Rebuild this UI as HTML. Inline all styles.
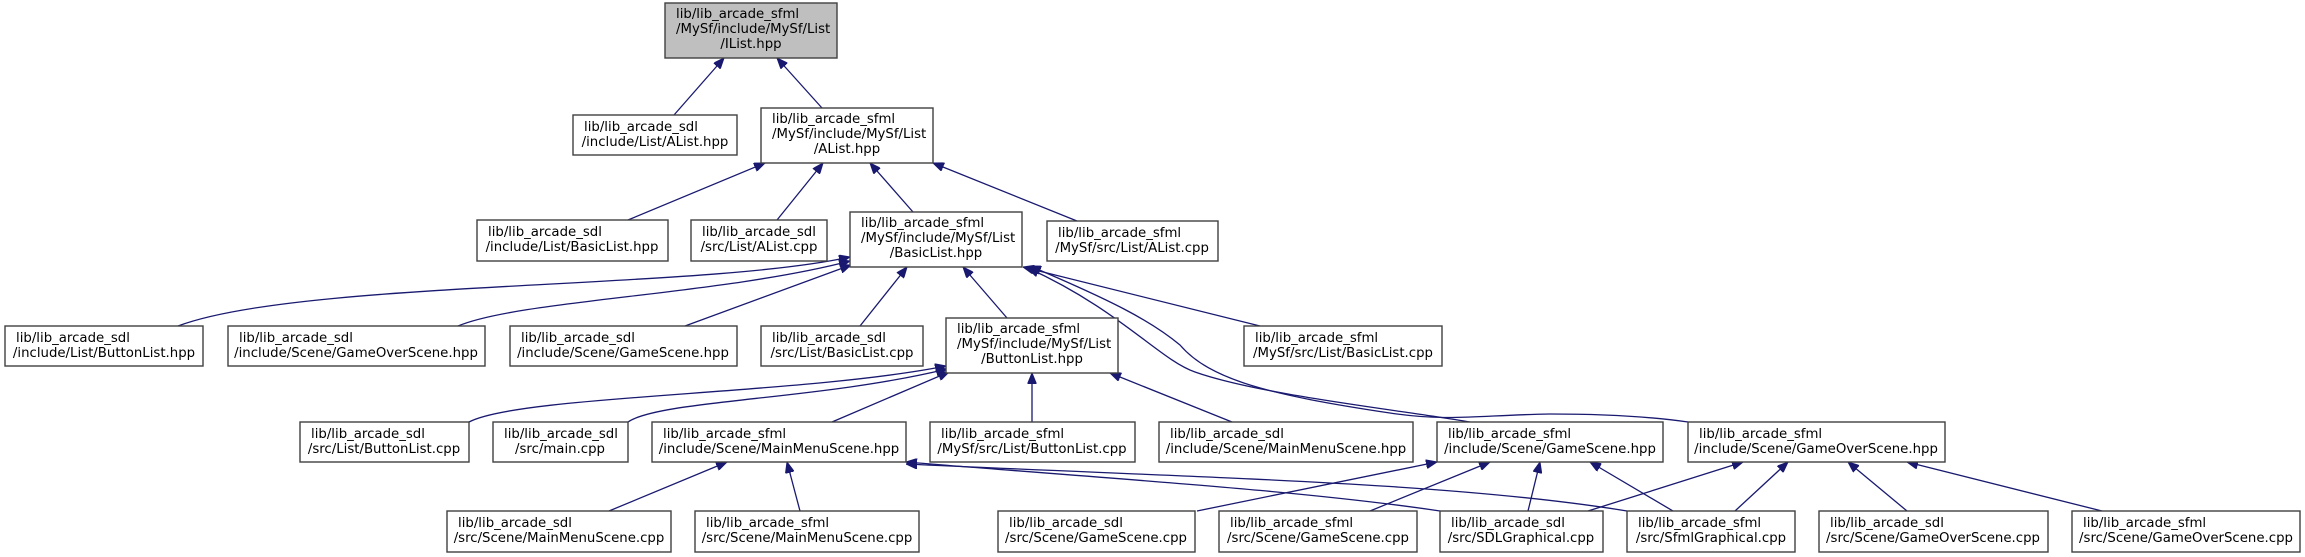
<!DOCTYPE html>
<html><head><meta charset="utf-8"><style>
html,body{margin:0;padding:0;background:#fff;}
svg{display:block;}
text{font-family:"DejaVu Sans","Liberation Sans",sans-serif;font-size:13.3px;fill:#000;}
.n{fill:#fff;stroke:#404040;stroke-width:1.4;}
.g{fill:#bfbfbf;stroke:#404040;stroke-width:1.4;}
.e{fill:none;stroke:#191970;stroke-width:1.3;marker-start:url(#ah);}
</style></head><body>
<svg width="2305" height="557" viewBox="0 0 2305 557" xmlns="http://www.w3.org/2000/svg">
<defs>
<marker id="ah" markerUnits="userSpaceOnUse" markerWidth="11" markerHeight="9" refX="11" refY="4.5" orient="auto-start-reverse">
<path d="M0,0 L11,4.5 L0,9 z" fill="#191970" stroke="#191970" stroke-width="1"/>
</marker>
</defs>

<!-- edges -->
<path class="e" d="M724,58 L674,115"/>
<path class="e" d="M777,58 L822,108"/>
<path class="e" d="M765,163 L628,220"/>
<path class="e" d="M823,163 L777,220"/>
<path class="e" d="M870,163 L913,212"/>
<path class="e" d="M933,163 L1077,221"/>

<path class="e" d="M850,257 C700,290 300,280 178,326"/>
<path class="e" d="M850,261 C720,295 520,300 458,326"/>
<path class="e" d="M851,265 L685,326"/>
<path class="e" d="M907,267 L860,326"/>
<path class="e" d="M963,267 L1007,318"/>
<path class="e" d="M1023,267 L1260,326"/>
<path class="e" d="M1028,268 C1120,310 1160,360 1195,372 C1260,395 1400,410 1470,422"/>
<path class="e" d="M1030,266 C1110,300 1150,320 1180,345 C1210,380 1270,395 1390,413 C1450,422 1480,415 1550,414 C1620,414 1660,418 1688,422"/>

<path class="e" d="M946,366 C800,395 520,395 469,422"/>
<path class="e" d="M947,369 C820,400 660,400 628,422"/>
<path class="e" d="M949,372 L832,422"/>
<path class="e" d="M1032,373 L1032,422"/>
<path class="e" d="M1110,373 L1232,422"/>

<path class="e" d="M727,462 L609,511"/>
<path class="e" d="M787,462 L800,511"/>
<path class="e" d="M906,462 C1100,478 1300,490 1440,511"/>
<path class="e" d="M906,464 C1200,478 1450,482 1627,511"/>
<path class="e" d="M1437,462 L1197,511"/>
<path class="e" d="M1490,462 L1370,511"/>
<path class="e" d="M1540,462 L1528,511"/>
<path class="e" d="M1590,462 L1673,511"/>
<path class="e" d="M1743,462 L1588,511"/>
<path class="e" d="M1788,462 L1735,511"/>
<path class="e" d="M1848,462 L1907,511"/>
<path class="e" d="M1907,462 L2102,511"/>

<!-- nodes -->
<rect class="g" x="665" y="3" width="172" height="55"/>
<text x="676" y="18">lib/lib_arcade_sfml</text><text x="676" y="33">/MySf/include/MySf/List</text><text x="751" y="48" text-anchor="middle">/IList.hpp</text>

<rect class="n" x="573" y="115" width="164" height="40"/>
<text x="584" y="131">lib/lib_arcade_sdl</text><text x="655" y="146" text-anchor="middle">/include/List/AList.hpp</text>

<rect class="n" x="761" y="108" width="172" height="55"/>
<text x="772" y="123">lib/lib_arcade_sfml</text><text x="772" y="138">/MySf/include/MySf/List</text><text x="847" y="153" text-anchor="middle">/AList.hpp</text>

<rect class="n" x="477" y="220" width="191" height="41"/>
<text x="488" y="236">lib/lib_arcade_sdl</text><text x="572" y="251" text-anchor="middle">/include/List/BasicList.hpp</text>

<rect class="n" x="691" y="220" width="136" height="41"/>
<text x="702" y="236">lib/lib_arcade_sdl</text><text x="759" y="251" text-anchor="middle">/src/List/AList.cpp</text>

<rect class="n" x="850" y="212" width="172" height="55"/>
<text x="861" y="227">lib/lib_arcade_sfml</text><text x="861" y="242">/MySf/include/MySf/List</text><text x="936" y="257" text-anchor="middle">/BasicList.hpp</text>

<rect class="n" x="1047" y="221" width="171" height="40"/>
<text x="1058" y="237">lib/lib_arcade_sfml</text><text x="1132" y="252" text-anchor="middle">/MySf/src/List/AList.cpp</text>

<rect class="n" x="5" y="326" width="198" height="40"/>
<text x="16" y="342">lib/lib_arcade_sdl</text><text x="104" y="357" text-anchor="middle">/include/List/ButtonList.hpp</text>

<rect class="n" x="228" y="326" width="257" height="40"/>
<text x="239" y="342">lib/lib_arcade_sdl</text><text x="356" y="357" text-anchor="middle">/include/Scene/GameOverScene.hpp</text>

<rect class="n" x="510" y="326" width="227" height="40"/>
<text x="521" y="342">lib/lib_arcade_sdl</text><text x="623" y="357" text-anchor="middle">/include/Scene/GameScene.hpp</text>

<rect class="n" x="761" y="326" width="162" height="40"/>
<text x="772" y="342">lib/lib_arcade_sdl</text><text x="842" y="357" text-anchor="middle">/src/List/BasicList.cpp</text>

<rect class="n" x="946" y="318" width="172" height="55"/>
<text x="957" y="333">lib/lib_arcade_sfml</text><text x="957" y="348">/MySf/include/MySf/List</text><text x="1032" y="363" text-anchor="middle">/ButtonList.hpp</text>

<rect class="n" x="1244" y="326" width="198" height="40"/>
<text x="1255" y="342">lib/lib_arcade_sfml</text><text x="1343" y="357" text-anchor="middle">/MySf/src/List/BasicList.cpp</text>

<rect class="n" x="300" y="422" width="169" height="40"/>
<text x="311" y="438">lib/lib_arcade_sdl</text><text x="384" y="453" text-anchor="middle">/src/List/ButtonList.cpp</text>

<rect class="n" x="493" y="422" width="135" height="40"/>
<text x="504" y="438">lib/lib_arcade_sdl</text><text x="560" y="453" text-anchor="middle">/src/main.cpp</text>

<rect class="n" x="652" y="422" width="254" height="40"/>
<text x="663" y="438">lib/lib_arcade_sfml</text><text x="779" y="453" text-anchor="middle">/include/Scene/MainMenuScene.hpp</text>

<rect class="n" x="930" y="422" width="205" height="40"/>
<text x="941" y="438">lib/lib_arcade_sfml</text><text x="1032" y="453" text-anchor="middle">/MySf/src/List/ButtonList.cpp</text>

<rect class="n" x="1159" y="422" width="254" height="40"/>
<text x="1170" y="438">lib/lib_arcade_sdl</text><text x="1286" y="453" text-anchor="middle">/include/Scene/MainMenuScene.hpp</text>

<rect class="n" x="1437" y="422" width="226" height="40"/>
<text x="1448" y="438">lib/lib_arcade_sfml</text><text x="1550" y="453" text-anchor="middle">/include/Scene/GameScene.hpp</text>

<rect class="n" x="1688" y="422" width="257" height="40"/>
<text x="1699" y="438">lib/lib_arcade_sfml</text><text x="1816" y="453" text-anchor="middle">/include/Scene/GameOverScene.hpp</text>

<rect class="n" x="447" y="511" width="224" height="41"/>
<text x="458" y="527">lib/lib_arcade_sdl</text><text x="559" y="542" text-anchor="middle">/src/Scene/MainMenuScene.cpp</text>

<rect class="n" x="695" y="511" width="224" height="41"/>
<text x="706" y="527">lib/lib_arcade_sfml</text><text x="807" y="542" text-anchor="middle">/src/Scene/MainMenuScene.cpp</text>

<rect class="n" x="998" y="511" width="197" height="41"/>
<text x="1009" y="527">lib/lib_arcade_sdl</text><text x="1096" y="542" text-anchor="middle">/src/Scene/GameScene.cpp</text>

<rect class="n" x="1219" y="511" width="198" height="41"/>
<text x="1230" y="527">lib/lib_arcade_sfml</text><text x="1318" y="542" text-anchor="middle">/src/Scene/GameScene.cpp</text>

<rect class="n" x="1440" y="511" width="163" height="41"/>
<text x="1451" y="527">lib/lib_arcade_sdl</text><text x="1521" y="542" text-anchor="middle">/src/SDLGraphical.cpp</text>

<rect class="n" x="1627" y="511" width="168" height="41"/>
<text x="1638" y="527">lib/lib_arcade_sfml</text><text x="1711" y="542" text-anchor="middle">/src/SfmlGraphical.cpp</text>

<rect class="n" x="1819" y="511" width="229" height="41"/>
<text x="1830" y="527">lib/lib_arcade_sdl</text><text x="1933" y="542" text-anchor="middle">/src/Scene/GameOverScene.cpp</text>

<rect class="n" x="2072" y="511" width="228" height="41"/>
<text x="2083" y="527">lib/lib_arcade_sfml</text><text x="2186" y="542" text-anchor="middle">/src/Scene/GameOverScene.cpp</text>
</svg>
</body></html>
